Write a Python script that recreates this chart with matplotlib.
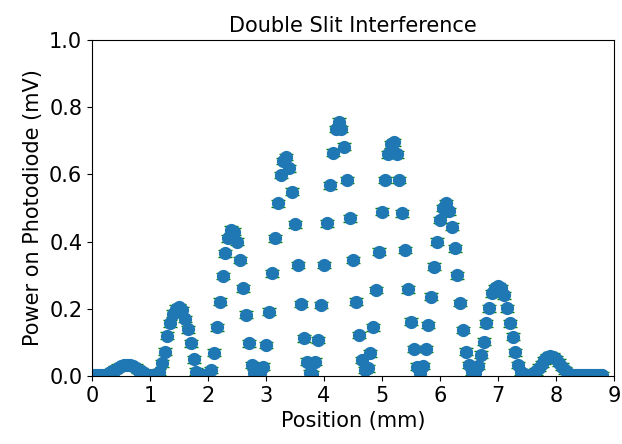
import matplotlib
matplotlib.use("Agg")  # headless
import matplotlib.pyplot as plt

# Photodiode scan across the double-slit pattern, 0.05 mm steps
position_mm = [
    0.00, 0.05, 0.10, 0.15, 0.20, 0.25, 0.30, 0.35, 0.40, 0.45,
    0.50, 0.55, 0.60, 0.65, 0.70, 0.75, 0.80, 0.85, 0.90, 0.95,
    1.00, 1.05, 1.10, 1.15, 1.20, 1.25, 1.30, 1.35, 1.40, 1.45,
    1.50, 1.55, 1.60, 1.65, 1.70, 1.75, 1.80, 1.85, 1.90, 1.95,
    2.00, 2.05, 2.10, 2.15, 2.20, 2.25, 2.30, 2.35, 2.40, 2.45,
    2.50, 2.55, 2.60, 2.65, 2.70, 2.75, 2.80, 2.85, 2.90, 2.95,
    3.00, 3.05, 3.10, 3.15, 3.20, 3.25, 3.30, 3.35, 3.40, 3.45,
    3.50, 3.55, 3.60, 3.65, 3.70, 3.75, 3.80, 3.85, 3.90, 3.95,
    4.00, 4.05, 4.10, 4.15, 4.20, 4.25, 4.30, 4.35, 4.40, 4.45,
    4.50, 4.55, 4.60, 4.65, 4.70, 4.75, 4.80, 4.85, 4.90, 4.95,
    5.00, 5.05, 5.10, 5.15, 5.20, 5.25, 5.30, 5.35, 5.40, 5.45,
    5.50, 5.55, 5.60, 5.65, 5.70, 5.75, 5.80, 5.85, 5.90, 5.95,
    6.00, 6.05, 6.10, 6.15, 6.20, 6.25, 6.30, 6.35, 6.40, 6.45,
    6.50, 6.55, 6.60, 6.65, 6.70, 6.75, 6.80, 6.85, 6.90, 6.95,
    7.00, 7.05, 7.10, 7.15, 7.20, 7.25, 7.30, 7.35, 7.40, 7.45,
    7.50, 7.55, 7.60, 7.65, 7.70, 7.75, 7.80, 7.85, 7.90, 7.95,
    8.00, 8.05, 8.10, 8.15, 8.20, 8.25, 8.30, 8.35, 8.40, 8.45,
    8.50, 8.55, 8.60, 8.65, 8.70, 8.75, 8.80,
]

power_mV = [
    0.003, 0.003, 0.003, 0.003, 0.003, 0.004, 0.008, 0.014, 0.019, 0.025,
    0.029, 0.032, 0.033, 0.032, 0.029, 0.025, 0.019, 0.014, 0.008, 0.004,
    0.003, 0.003, 0.004, 0.012, 0.038, 0.072, 0.120, 0.157, 0.185, 0.200,
    0.205, 0.195, 0.170, 0.139, 0.097, 0.050, 0.013, 0.005, 0.003, 0.003,
    0.005, 0.018, 0.069, 0.145, 0.221, 0.298, 0.365, 0.410, 0.435, 0.430,
    0.400, 0.345, 0.261, 0.182, 0.097, 0.033, 0.008, 0.005, 0.010, 0.028,
    0.092, 0.191, 0.306, 0.410, 0.514, 0.598, 0.640, 0.652, 0.618, 0.549,
    0.451, 0.330, 0.214, 0.112, 0.043, 0.008, 0.005, 0.043, 0.107, 0.211,
    0.330, 0.454, 0.568, 0.665, 0.735, 0.757, 0.735, 0.682, 0.583, 0.469,
    0.345, 0.221, 0.122, 0.048, 0.018, 0.023, 0.068, 0.145, 0.256, 0.370,
    0.489, 0.583, 0.660, 0.690, 0.695, 0.660, 0.583, 0.484, 0.375, 0.258,
    0.162, 0.080, 0.028, 0.010, 0.030, 0.080, 0.152, 0.236, 0.325, 0.400,
    0.464, 0.500, 0.514, 0.490, 0.444, 0.380, 0.300, 0.217, 0.137, 0.072,
    0.033, 0.013, 0.008, 0.030, 0.063, 0.102, 0.157, 0.201, 0.246, 0.262,
    0.268, 0.262, 0.240, 0.201, 0.157, 0.117, 0.070, 0.033, 0.012, 0.005,
    0.003, 0.003, 0.006, 0.014, 0.025, 0.036, 0.047, 0.056, 0.060, 0.058,
    0.050, 0.040, 0.028, 0.017, 0.008, 0.004, 0.003, 0.003, 0.003, 0.003,
    0.003, 0.003, 0.003, 0.003, 0.003, 0.003, 0.003,
]

power_err_mV = 0.01  # same uncertainty on every reading

fig = plt.figure(figsize=(6.22, 4.44), dpi=100)
ax = fig.add_axes([92 / 622, 1 - 376 / 444, 522 / 622, 336 / 444])

ax.errorbar(position_mm, power_mV, yerr=power_err_mV, fmt="o", color="C0",
            ecolor="green", capsize=5, markersize=8.5, elinewidth=1)

ax.set_xlim(0, 9)
ax.set_ylim(0, 1)
ax.set_xticks(range(0, 10))
ax.tick_params(labelsize=15)
ax.set_xlabel("Position (mm)", fontsize=15)
ax.set_ylabel("Power on Photodiode (mV)", fontsize=15)
ax.set_title("Double Slit Interference", fontsize=15)

fig.savefig("out.png", dpi=100)
plt.close(fig)
